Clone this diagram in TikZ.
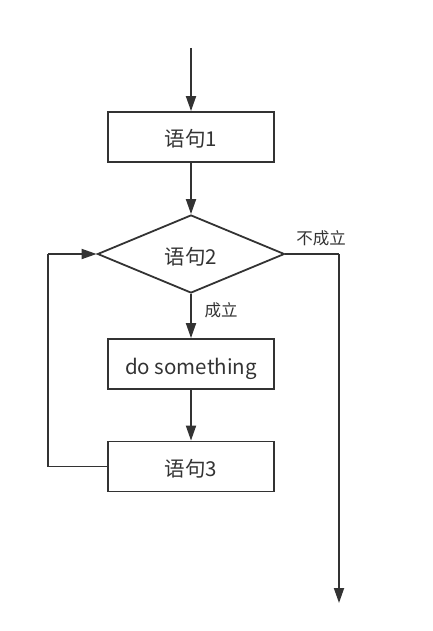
\documentclass[tikz,border=0pt]{standalone}
\usepackage{fontspec}
\setmainfont{Noto Sans CJK SC}
\usetikzlibrary{shapes.geometric,arrows.meta}
\definecolor{ink}{HTML}{333333}
\begin{document}
\begin{tikzpicture}[x=1pt,y=-1pt,
  every node/.style={font=\fontsize{20.5}{22}\selectfont, text=ink},
  stepbox/.style={draw=ink, line width=1.8pt, minimum width=166pt, minimum height=50pt, inner sep=0pt, text height=22pt, text depth=2pt},
  decision/.style={draw=ink, line width=1.8pt, diamond, aspect=2.4, minimum width=187pt, minimum height=78pt, inner sep=0pt, text height=22pt, text depth=2pt},
  conn/.style={draw=ink, line width=1.8pt},
  arr/.style={conn, -{Triangle[length=15pt,width=10pt]}},
  lbl/.style={font=\fontsize{16.5}{18}\selectfont, text=ink}]
\useasboundingbox (0,0) rectangle (433,631);
\coordinate (start) at (191,48);
\node[stepbox] (s1) at (191,137) {语句1};
\node[decision] (d) at (191,254) {语句2};
\node[stepbox] (s2) at (191,364) {do something};
\node[stepbox] (s3) at (191,466.5) {语句3};
\coordinate (rc) at (339,254);
\coordinate (end) at (339,603);
\coordinate (lb) at (48,466.5);
\coordinate (lt) at (48,254);
\draw[arr] (start) -- (s1.north);
\draw[arr] (s1.south) -- (d.north);
\draw[arr] (d.south) -- (s2.north);
\draw[arr] (s2.south) -- (s3.north);
\draw[conn] (d.east) -- (rc);
\draw[arr] (rc) -- (end);
\draw[conn] (s3.west) -- (lb) -- (lt);
\draw[arr] (lt) -- (d.west);
\node[lbl] (no) at (321,238) {不成立};
\node[lbl] (yes) at (221,310) {成立};
\end{tikzpicture}
\end{document}
